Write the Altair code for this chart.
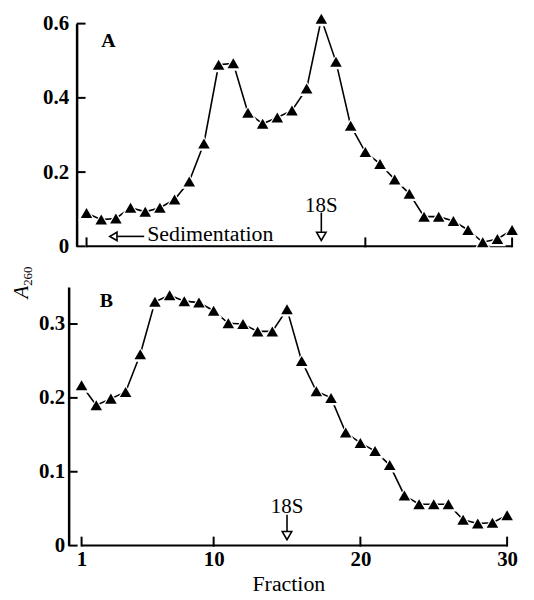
import altair as alt
import pandas as pd

# ---------------- data ----------------
fraction = list(range(1, 31))
a260_panel_a = [0.090, 0.072, 0.075, 0.104, 0.093, 0.104, 0.126, 0.175, 0.277, 0.489,
                0.493, 0.360, 0.330, 0.347, 0.366, 0.425, 0.613, 0.497, 0.325, 0.254,
                0.222, 0.180, 0.142, 0.080, 0.080, 0.068, 0.044, 0.011, 0.020, 0.044]
a260_panel_b = [0.217, 0.190, 0.199, 0.208, 0.259, 0.330, 0.339, 0.331, 0.329, 0.318,
                0.301, 0.300, 0.290, 0.290, 0.320, 0.250, 0.209, 0.200, 0.153, 0.139,
                0.128, 0.109, 0.068, 0.056, 0.056, 0.056, 0.035, 0.030, 0.031, 0.041]
y_ticks_a = [0, 0.2, 0.4, 0.6]
y_ticks_b = [0, 0.1, 0.2, 0.3]
x_ticks_a = [1, 20, 30]
x_ticks_b = [1, 10, 20, 30]
marker_18s_a = 17
marker_18s_b = 15
x_range = [1, 30]

FONT = "Liberation Serif"
W = 445
TICK = 9


def panel(values, ymax, xdom, height, yticks, xticks, y_offset, label_pad,
          letter, letter_xy, s18, s18_text_y, s18_shaft, s18_head_y, bottom_axis):
    df = pd.DataFrame({"f": fraction, "v": values})
    xs = alt.Scale(domain=xdom, nice=False, zero=False)
    ys = alt.Scale(domain=[0, ymax], nice=False)
    if bottom_axis:
        xaxis = alt.Axis(values=x_ticks_b, format="d", ticks=False, domain=False, grid=False,
                         labelFont=FONT, labelFontSize=21, labelFontWeight="bold",
                         labelColor="black", labelPadding=3, labelFlush=False,
                         title="Fraction", titleFont=FONT, titleFontSize=22,
                         titleFontWeight="normal", titleColor="black", titlePadding=4,
                         titleX=213)
    else:
        xaxis = None
    yaxis = alt.Axis(values=yticks, format="~g", ticks=False, domain=True, domainColor="black",
                     domainWidth=2.5, grid=False, labelFont=FONT, labelFontSize=21,
                     labelFontWeight="bold", labelColor="black", labelPadding=label_pad,
                     offset=y_offset, title=None)
    X = lambda fld: alt.X(fld, scale=xs, axis=xaxis)
    Y = lambda fld: alt.Y(fld, scale=ys, axis=yaxis)

    base = alt.Chart(df)
    line = base.mark_line(color="black", strokeWidth=1.6).encode(x=X("f:Q"), y=Y("v:Q"))
    halo = base.mark_point(shape="triangle-up", filled=True, color="white",
                           opacity=1, size=290).encode(x=X("f:Q"), y=Y("v:Q"))
    tri = base.mark_point(shape="triangle-up", filled=True, color="black",
                          opacity=1, size=135).encode(x=X("f:Q"), y=Y("v:Q"))

    # x axis baseline (from fraction 1 to 30)
    xl = pd.DataFrame({"f": [x_range[0]], "b": [x_range[1]], "v": [0]})
    xline = alt.Chart(xl).mark_rule(color="black", strokeWidth=2).encode(
        x=X("f:Q"), x2="b:Q", y=Y("v:Q"))
    # inward x ticks
    xt = pd.DataFrame({"f": xticks})
    xtick = alt.Chart(xt).mark_rule(color="black", strokeWidth=2).encode(
        x=X("f:Q"), y=alt.value(height + 1), y2=alt.value(height - TICK))
    # inward y ticks
    yt = pd.DataFrame({"v": yticks})
    ytick = alt.Chart(yt).mark_rule(color="black", strokeWidth=2).encode(
        y=Y("v:Q"), x=alt.value(-y_offset), x2=alt.value(-y_offset + TICK))

    one = pd.DataFrame({"f": [s18]})
    s_text = alt.Chart(one).mark_text(font=FONT, fontSize=21, color="black",
                                      baseline="middle").encode(
        x=X("f:Q"), y=alt.value(s18_text_y), text=alt.value("18S"))
    s_shaft = alt.Chart(one).mark_rule(color="black", strokeWidth=1.6).encode(
        x=X("f:Q"), y=alt.value(s18_shaft[0]), y2=alt.value(s18_shaft[1]))
    s_head = alt.Chart(one).mark_point(shape="triangle-down", filled=True, fill="white",
                                       stroke="black", strokeWidth=1.6, opacity=1,
                                       size=90).encode(
        x=X("f:Q"), y=alt.value(s18_head_y))
    lab = alt.Chart(one).mark_text(font=FONT, fontSize=20, fontWeight="bold",
                                   color="black", baseline="middle").encode(
        x=alt.value(letter_xy[0]), y=alt.value(letter_xy[1]), text=alt.value(letter))

    layers = [line, xline, xtick, ytick, halo, tri, s_text, s_shaft, s_head, lab]
    return layers


top_layers = panel(a260_panel_a, 0.6, [0.3225, 30.474], 224, y_ticks_a, x_ticks_a,
                   0, 8, "A", (32, 18), marker_18s_a, 183, (190, 210), 214, False)
one = pd.DataFrame({"s": [0]})
sed_head = alt.Chart(one).mark_point(shape="triangle-left", filled=True, fill="white",
                                     stroke="black", strokeWidth=1.6, opacity=1,
                                     size=70).encode(x=alt.value(37), y=alt.value(214))
sed_shaft = alt.Chart(one).mark_rule(color="black", strokeWidth=1.6).encode(
    x=alt.value(41), x2=alt.value(68), y=alt.value(214))
sed_text = alt.Chart(one).mark_text(font=FONT, fontSize=22, color="black", align="left",
                                    baseline="alphabetic").encode(
    x=alt.value(71), y=alt.value(219), text=alt.value("Sedimentation"))
top = alt.layer(*top_layers, sed_head, sed_shaft, sed_text).properties(width=W, height=224)

bot_layers = panel(a260_panel_b, 0.35, [0.661, 30.813], 260, y_ticks_b, x_ticks_b,
                   8, 4, "B", (30, 14), marker_18s_b, 221, (229, 246), 250, True)
a_text = alt.Chart(one).mark_text(font=FONT, fontSize=21, fontStyle="italic", color="black",
                                  angle=270, baseline="middle", align="center").encode(
    x=alt.value(-55), y=alt.value(5), text=alt.value("A"))
sub_text = alt.Chart(one).mark_text(font=FONT, fontSize=13, color="black",
                                    angle=270, baseline="middle", align="center").encode(
    x=alt.value(-49), y=alt.value(-11), text=alt.value("260"))
bottom = alt.layer(*bot_layers, a_text, sub_text).properties(width=W, height=260)

chart = alt.vconcat(top, bottom, spacing=41, bounds="flush").properties(
    padding={"left": 3, "top": 1, "right": 5, "bottom": 5}, background="white"
).configure_view(stroke=None)

chart.save("out.html", embed_options={"renderer": "svg", "actions": False})
